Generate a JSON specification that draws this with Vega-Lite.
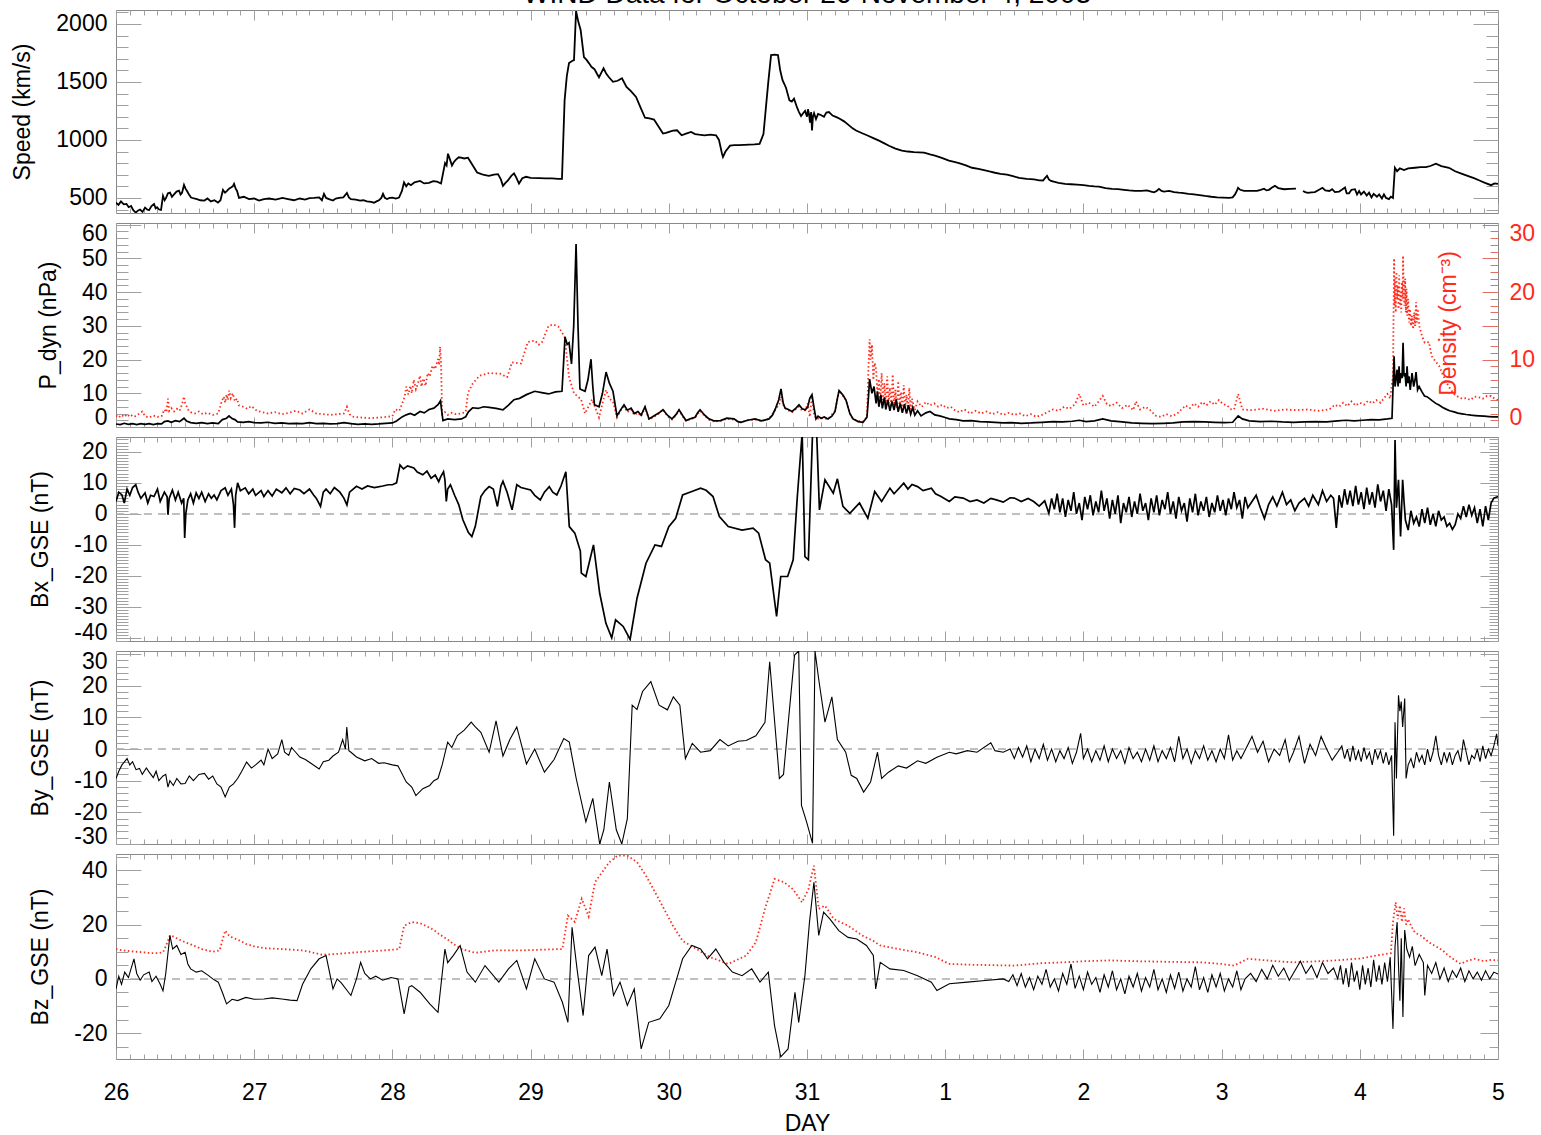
{
"$schema":"https://vega.github.io/schema/vega-lite/v6.json",
"padding":{"left":11,"top":-20,"right":0,"bottom":0},
"background":"white",
"config":{"font":"Liberation Sans","view":{"stroke":"#888888","strokeWidth":1},
"axis":{"grid":false,"domain":false,"labelFont":"Liberation Sans","titleFont":"Liberation Sans","labelFontSize":23,"titleFontSize":23,"titleFontWeight":"normal","labelColor":"#000","titleColor":"#000","tickColor":"#a0a0a0","labelPadding":9,"titlePadding":21,"labelOverlap":false,"labelFlush":5}},
"datasets":{
"frame":[{"t":0},{"t":10}],
"spd":[{"t":0,"v":459},{"t":0.018,"v":440},{"t":0.036,"v":470},{"t":0.056,"v":445},{"t":0.076,"v":448},{"t":0.092,"v":420},{"t":0.109,"v":430},{"t":0.125,"v":395},{"t":0.143,"v":373},{"t":0.158,"v":390},{"t":0.174,"v":400},{"t":0.192,"v":380},{"t":0.21,"v":416},{"t":0.225,"v":400},{"t":0.239,"v":395},{"t":0.257,"v":430},{"t":0.275,"v":448},{"t":0.287,"v":410},{"t":0.297,"v":420},{"t":0.312,"v":400},{"t":0.326,"v":396},{"t":0.34,"v":517},{"t":0.352,"v":480},{"t":0.362,"v":500},{"t":0.376,"v":540},{"t":0.391,"v":546},{"t":0.405,"v":510},{"t":0.42,"v":530},{"t":0.438,"v":555},{"t":0.456,"v":563},{"t":0.467,"v":530},{"t":0.478,"v":545},{"t":0.492,"v":612},{"t":0.503,"v":580},{"t":0.514,"v":560},{"t":0.528,"v":530},{"t":0.543,"v":503},{"t":0.565,"v":495},{"t":0.586,"v":490},{"t":0.61,"v":480},{"t":0.64,"v":477},{"t":0.662,"v":495},{"t":0.687,"v":470},{"t":0.712,"v":480},{"t":0.738,"v":460},{"t":0.756,"v":480},{"t":0.774,"v":569},{"t":0.789,"v":545},{"t":0.803,"v":560},{"t":0.818,"v":580},{"t":0.832,"v":590},{"t":0.845,"v":600},{"t":0.854,"v":621},{"t":0.866,"v":580},{"t":0.876,"v":560},{"t":0.89,"v":500},{"t":0.925,"v":510},{"t":0.962,"v":490},{"t":1.0,"v":495},{"t":1.035,"v":477},{"t":1.07,"v":490},{"t":1.107,"v":495},{"t":1.155,"v":485},{"t":1.205,"v":500},{"t":1.245,"v":490},{"t":1.288,"v":480},{"t":1.33,"v":495},{"t":1.368,"v":486},{"t":1.4,"v":498},{"t":1.433,"v":500},{"t":1.47,"v":505},{"t":1.49,"v":480},{"t":1.505,"v":535},{"t":1.52,"v":500},{"t":1.541,"v":490},{"t":1.57,"v":477},{"t":1.59,"v":495},{"t":1.614,"v":500},{"t":1.645,"v":505},{"t":1.671,"v":543},{"t":1.685,"v":505},{"t":1.7,"v":490},{"t":1.735,"v":485},{"t":1.766,"v":477},{"t":1.79,"v":480},{"t":1.816,"v":470},{"t":1.845,"v":465},{"t":1.867,"v":459},{"t":1.885,"v":470},{"t":1.903,"v":480},{"t":1.92,"v":500},{"t":1.932,"v":535},{"t":1.945,"v":500},{"t":1.961,"v":490},{"t":1.98,"v":500},{"t":2.001,"v":503},{"t":2.025,"v":495},{"t":2.048,"v":503},{"t":2.069,"v":560},{"t":2.084,"v":633},{"t":2.1,"v":600},{"t":2.115,"v":625},{"t":2.134,"v":610},{"t":2.16,"v":635},{"t":2.2,"v":647},{"t":2.23,"v":625},{"t":2.265,"v":630},{"t":2.295,"v":645},{"t":2.323,"v":640},{"t":2.352,"v":624},{"t":2.381,"v":800},{"t":2.392,"v":780},{"t":2.402,"v":881},{"t":2.417,"v":830},{"t":2.431,"v":780},{"t":2.445,"v":810},{"t":2.46,"v":830},{"t":2.48,"v":850},{"t":2.496,"v":847},{"t":2.52,"v":840},{"t":2.547,"v":847},{"t":2.576,"v":790},{"t":2.613,"v":719},{"t":2.635,"v":710},{"t":2.656,"v":700},{"t":2.68,"v":695},{"t":2.699,"v":690},{"t":2.735,"v":700},{"t":2.764,"v":705},{"t":2.785,"v":660},{"t":2.8,"v":604},{"t":2.818,"v":630},{"t":2.836,"v":650},{"t":2.86,"v":690},{"t":2.88,"v":711},{"t":2.895,"v":680},{"t":2.916,"v":624},{"t":2.94,"v":670},{"t":2.967,"v":682},{"t":3.0,"v":672},{"t":3.061,"v":670},{"t":3.11,"v":668},{"t":3.155,"v":668},{"t":3.2,"v":665},{"t":3.227,"v":665},{"t":3.246,"v":1341},{"t":3.262,"v":1550},{"t":3.278,"v":1662},{"t":3.3,"v":1680},{"t":3.314,"v":1688},{"t":3.329,"v":2110},{"t":3.345,"v":2020},{"t":3.362,"v":1948},{"t":3.386,"v":1714},{"t":3.405,"v":1690},{"t":3.423,"v":1660},{"t":3.44,"v":1630},{"t":3.462,"v":1610},{"t":3.48,"v":1570},{"t":3.495,"v":1540},{"t":3.512,"v":1580},{"t":3.528,"v":1618},{"t":3.548,"v":1570},{"t":3.567,"v":1540},{"t":3.596,"v":1501},{"t":3.63,"v":1510},{"t":3.661,"v":1532},{"t":3.694,"v":1457},{"t":3.726,"v":1420},{"t":3.763,"v":1370},{"t":3.795,"v":1280},{"t":3.828,"v":1191},{"t":3.86,"v":1185},{"t":3.893,"v":1176},{"t":3.929,"v":1110},{"t":3.958,"v":1055},{"t":3.98,"v":1060},{"t":4.002,"v":1070},{"t":4.03,"v":1080},{"t":4.06,"v":1083},{"t":4.093,"v":1040},{"t":4.125,"v":1055},{"t":4.161,"v":1069},{"t":4.19,"v":1050},{"t":4.219,"v":1045},{"t":4.258,"v":1040},{"t":4.3,"v":1045},{"t":4.342,"v":1040},{"t":4.363,"v":1000},{"t":4.385,"v":881},{"t":4.392,"v":853},{"t":4.41,"v":900},{"t":4.443,"v":951},{"t":4.475,"v":955},{"t":4.508,"v":955},{"t":4.545,"v":958},{"t":4.58,"v":960},{"t":4.62,"v":962},{"t":4.657,"v":966},{"t":4.685,"v":1050},{"t":4.703,"v":1283},{"t":4.72,"v":1500},{"t":4.74,"v":1731},{"t":4.765,"v":1735},{"t":4.79,"v":1731},{"t":4.806,"v":1600},{"t":4.823,"v":1515},{"t":4.848,"v":1450},{"t":4.873,"v":1341},{"t":4.89,"v":1330},{"t":4.906,"v":1355},{"t":4.928,"v":1280},{"t":4.942,"v":1240},{"t":4.957,"v":1206},{"t":4.972,"v":1230},{"t":4.986,"v":1250},{"t":5.0,"v":1200},{"t":5.007,"v":1264},{"t":5.015,"v":1220},{"t":5.022,"v":1150},{"t":5.03,"v":1240},{"t":5.036,"v":1081},{"t":5.043,"v":1200},{"t":5.051,"v":1230},{"t":5.065,"v":1180},{"t":5.08,"v":1225},{"t":5.1,"v":1215},{"t":5.123,"v":1200},{"t":5.14,"v":1235},{"t":5.159,"v":1240},{"t":5.185,"v":1210},{"t":5.217,"v":1194},{"t":5.24,"v":1180},{"t":5.268,"v":1160},{"t":5.3,"v":1130},{"t":5.33,"v":1100},{"t":5.355,"v":1081},{"t":5.395,"v":1060},{"t":5.434,"v":1040},{"t":5.48,"v":1015},{"t":5.521,"v":994},{"t":5.56,"v":970},{"t":5.593,"v":950},{"t":5.64,"v":925},{"t":5.687,"v":908},{"t":5.73,"v":900},{"t":5.774,"v":895},{"t":5.81,"v":893},{"t":5.847,"v":890},{"t":5.89,"v":875},{"t":5.926,"v":864},{"t":5.975,"v":845},{"t":6.027,"v":821},{"t":6.065,"v":810},{"t":6.1,"v":800},{"t":6.15,"v":780},{"t":6.194,"v":760},{"t":6.24,"v":750},{"t":6.281,"v":740},{"t":6.32,"v":728},{"t":6.36,"v":717},{"t":6.4,"v":708},{"t":6.447,"v":700},{"t":6.49,"v":688},{"t":6.534,"v":673},{"t":6.59,"v":665},{"t":6.643,"v":660},{"t":6.68,"v":652},{"t":6.708,"v":650},{"t":6.722,"v":670},{"t":6.737,"v":690},{"t":6.75,"v":660},{"t":6.765,"v":647},{"t":6.82,"v":630},{"t":6.867,"v":621},{"t":6.91,"v":618},{"t":6.954,"v":615},{"t":7.0,"v":610},{"t":7.04,"v":604},{"t":7.08,"v":600},{"t":7.113,"v":598},{"t":7.16,"v":585},{"t":7.207,"v":578},{"t":7.25,"v":575},{"t":7.294,"v":570},{"t":7.33,"v":565},{"t":7.373,"v":561},{"t":7.42,"v":560},{"t":7.46,"v":565},{"t":7.49,"v":555},{"t":7.511,"v":548},{"t":7.53,"v":560},{"t":7.547,"v":578},{"t":7.565,"v":560},{"t":7.583,"v":555},{"t":7.62,"v":560},{"t":7.656,"v":550},{"t":7.69,"v":545},{"t":7.713,"v":543},{"t":7.76,"v":535},{"t":7.8,"v":530},{"t":7.84,"v":525},{"t":7.88,"v":517},{"t":7.925,"v":510},{"t":7.967,"v":505},{"t":8.01,"v":502},{"t":8.054,"v":500},{"t":8.08,"v":505},{"t":8.097,"v":530},{"t":8.11,"v":560},{"t":8.119,"v":587},{"t":8.135,"v":570},{"t":8.162,"v":560},{"t":8.21,"v":560},{"t":8.256,"v":561},{"t":8.283,"v":570},{"t":8.307,"v":580},{"t":8.325,"v":565},{"t":8.343,"v":570},{"t":8.365,"v":590},{"t":8.386,"v":604},{"t":8.41,"v":585},{"t":8.452,"v":575},{"t":8.495,"v":578},{"t":8.538,"v":580},{"t":8.56,"v":null},{"t":8.589,"v":560},{"t":8.605,"v":550},{"t":8.624,"v":543},{"t":8.65,"v":548},{"t":8.675,"v":550},{"t":8.705,"v":570},{"t":8.73,"v":587},{"t":8.75,"v":565},{"t":8.78,"v":560},{"t":8.8,"v":575},{"t":8.82,"v":550},{"t":8.85,"v":555},{"t":8.87,"v":570},{"t":8.893,"v":590},{"t":8.905,"v":540},{"t":8.922,"v":540},{"t":8.94,"v":570},{"t":8.965,"v":575},{"t":8.98,"v":530},{"t":8.995,"v":560},{"t":9.009,"v":530},{"t":9.03,"v":555},{"t":9.05,"v":520},{"t":9.067,"v":545},{"t":9.085,"v":505},{"t":9.1,"v":535},{"t":9.124,"v":510},{"t":9.14,"v":530},{"t":9.16,"v":495},{"t":9.175,"v":530},{"t":9.19,"v":500},{"t":9.211,"v":490},{"t":9.225,"v":510},{"t":9.24,"v":500},{"t":9.254,"v":760},{"t":9.27,"v":730},{"t":9.29,"v":755},{"t":9.32,"v":740},{"t":9.35,"v":755},{"t":9.399,"v":760},{"t":9.44,"v":765},{"t":9.479,"v":765},{"t":9.51,"v":775},{"t":9.551,"v":795},{"t":9.59,"v":775},{"t":9.645,"v":760},{"t":9.69,"v":730},{"t":9.74,"v":708},{"t":9.78,"v":690},{"t":9.826,"v":670},{"t":9.866,"v":650},{"t":9.906,"v":630},{"t":9.95,"v":610},{"t":9.975,"v":625},{"t":10,"v":621}],
"pd":[{"t":0,"v":0.9},{"t":0.03,"v":0.7},{"t":0.06,"v":1.1},{"t":0.09,"v":0.8},{"t":0.12,"v":1.0},{"t":0.15,"v":0.7},{"t":0.18,"v":1.0},{"t":0.21,"v":0.8},{"t":0.24,"v":1.0},{"t":0.27,"v":0.7},{"t":0.3,"v":1.0},{"t":0.33,"v":0.9},{"t":0.35,"v":1.6},{"t":0.376,"v":1.8},{"t":0.4,"v":1.4},{"t":0.43,"v":1.9},{"t":0.46,"v":1.6},{"t":0.492,"v":2.6},{"t":0.51,"v":1.8},{"t":0.54,"v":1.3},{"t":0.58,"v":1.1},{"t":0.62,"v":1.3},{"t":0.66,"v":1.0},{"t":0.7,"v":1.2},{"t":0.74,"v":1.0},{"t":0.77,"v":2.2},{"t":0.8,"v":2.6},{"t":0.818,"v":3.3},{"t":0.84,"v":2.5},{"t":0.86,"v":2.2},{"t":0.88,"v":1.5},{"t":0.92,"v":1.4},{"t":0.96,"v":1.6},{"t":1.0,"v":1.3},{"t":1.05,"v":1.2},{"t":1.1,"v":1.4},{"t":1.15,"v":1.1},{"t":1.2,"v":1.2},{"t":1.25,"v":1.0},{"t":1.3,"v":1.1},{"t":1.35,"v":1.0},{"t":1.4,"v":1.3},{"t":1.45,"v":1.0},{"t":1.5,"v":1.1},{"t":1.55,"v":0.9},{"t":1.6,"v":1.0},{"t":1.65,"v":1.3},{"t":1.7,"v":1.0},{"t":1.75,"v":0.8},{"t":1.8,"v":0.9},{"t":1.85,"v":0.8},{"t":1.9,"v":0.9},{"t":1.95,"v":1.1},{"t":2.0,"v":1.2},{"t":2.03,"v":1.8},{"t":2.07,"v":3.0},{"t":2.1,"v":3.6},{"t":2.13,"v":4.0},{"t":2.16,"v":3.5},{"t":2.2,"v":4.6},{"t":2.23,"v":4.2},{"t":2.265,"v":5.2},{"t":2.3,"v":5.6},{"t":2.33,"v":6.6},{"t":2.348,"v":7.8},{"t":2.356,"v":5.0},{"t":2.366,"v":1.9},{"t":2.4,"v":2.4},{"t":2.45,"v":2.2},{"t":2.5,"v":2.4},{"t":2.53,"v":3.0},{"t":2.55,"v":4.5},{"t":2.58,"v":5.7},{"t":2.62,"v":5.5},{"t":2.66,"v":6.0},{"t":2.7,"v":5.8},{"t":2.75,"v":5.5},{"t":2.8,"v":5.1},{"t":2.84,"v":6.5},{"t":2.88,"v":8.1},{"t":2.92,"v":8.5},{"t":2.97,"v":9.6},{"t":3.03,"v":10.6},{"t":3.08,"v":10.2},{"t":3.13,"v":9.8},{"t":3.18,"v":10.4},{"t":3.227,"v":10.6},{"t":3.249,"v":26.7},{"t":3.265,"v":24.5},{"t":3.278,"v":25},{"t":3.296,"v":18.7},{"t":3.312,"v":30},{"t":3.329,"v":54.3},{"t":3.343,"v":30},{"t":3.357,"v":11.3},{"t":3.394,"v":10.6},{"t":3.415,"v":14},{"t":3.437,"v":20.1},{"t":3.45,"v":12},{"t":3.462,"v":6.6},{"t":3.495,"v":6},{"t":3.52,"v":10},{"t":3.546,"v":16.3},{"t":3.57,"v":13},{"t":3.596,"v":10.6},{"t":3.625,"v":3.3},{"t":3.65,"v":5},{"t":3.676,"v":6.6},{"t":3.7,"v":5},{"t":3.727,"v":5.6},{"t":3.75,"v":4.0},{"t":3.777,"v":4.6},{"t":3.8,"v":3.5},{"t":3.828,"v":6},{"t":3.857,"v":2.4},{"t":3.9,"v":3.5},{"t":3.93,"v":4.2},{"t":3.958,"v":5.1},{"t":3.99,"v":3.5},{"t":4.023,"v":2.4},{"t":4.05,"v":3.6},{"t":4.074,"v":5.1},{"t":4.1,"v":3.4},{"t":4.125,"v":1.9},{"t":4.16,"v":2.5},{"t":4.19,"v":2.9},{"t":4.21,"v":4.3},{"t":4.226,"v":5.1},{"t":4.26,"v":3.5},{"t":4.291,"v":2.4},{"t":4.33,"v":1.8},{"t":4.374,"v":1.9},{"t":4.42,"v":2.6},{"t":4.472,"v":2.4},{"t":4.5,"v":1.6},{"t":4.522,"v":1.4},{"t":4.57,"v":2.0},{"t":4.624,"v":2.4},{"t":4.67,"v":1.8},{"t":4.725,"v":2.4},{"t":4.75,"v":3.5},{"t":4.773,"v":5.6},{"t":4.795,"v":8},{"t":4.812,"v":11.3},{"t":4.828,"v":7},{"t":4.841,"v":5.6},{"t":4.865,"v":5.2},{"t":4.892,"v":4.6},{"t":4.92,"v":5.6},{"t":4.942,"v":6.6},{"t":4.965,"v":5.4},{"t":4.988,"v":5.1},{"t":5.005,"v":5.9},{"t":5.02,"v":8.5},{"t":5.036,"v":9.6},{"t":5.05,"v":6},{"t":5.065,"v":2.4},{"t":5.08,"v":3.2},{"t":5.101,"v":2.6},{"t":5.125,"v":3.0},{"t":5.152,"v":2.4},{"t":5.18,"v":3.2},{"t":5.203,"v":4.6},{"t":5.22,"v":8.5},{"t":5.232,"v":10.8},{"t":5.26,"v":9.5},{"t":5.282,"v":8},{"t":5.31,"v":4},{"t":5.333,"v":2.4},{"t":5.37,"v":1.6},{"t":5.405,"v":1.4},{"t":5.434,"v":2.9},{"t":5.445,"v":9},{"t":5.453,"v":14.2},{"t":5.47,"v":10},{"t":5.485,"v":12},{"t":5.5,"v":7},{"t":5.51,"v":10.5},{"t":5.52,"v":6},{"t":5.535,"v":9.5},{"t":5.545,"v":5.5},{"t":5.56,"v":8.8},{"t":5.57,"v":5.2},{"t":5.585,"v":8},{"t":5.6,"v":4.8},{"t":5.615,"v":7.6},{"t":5.63,"v":5},{"t":5.645,"v":8.2},{"t":5.66,"v":4.5},{"t":5.675,"v":7},{"t":5.69,"v":4.2},{"t":5.705,"v":6.8},{"t":5.72,"v":4},{"t":5.735,"v":6.5},{"t":5.75,"v":3.8},{"t":5.765,"v":5.8},{"t":5.78,"v":3.5},{"t":5.8,"v":4.8},{"t":5.825,"v":3.3},{"t":5.86,"v":4.2},{"t":5.89,"v":4.6},{"t":5.925,"v":3.6},{"t":5.96,"v":3.3},{"t":6.0,"v":2.8},{"t":6.03,"v":2.4},{"t":6.08,"v":2.2},{"t":6.13,"v":1.8},{"t":6.19,"v":1.9},{"t":6.25,"v":1.6},{"t":6.3,"v":1.5},{"t":6.36,"v":1.4},{"t":6.42,"v":1.2},{"t":6.48,"v":1.3},{"t":6.55,"v":1.1},{"t":6.62,"v":1.2},{"t":6.7,"v":1.4},{"t":6.78,"v":1.6},{"t":6.85,"v":1.5},{"t":6.92,"v":1.7},{"t":6.97,"v":2.0},{"t":7.02,"v":1.6},{"t":7.08,"v":1.8},{"t":7.14,"v":2.4},{"t":7.2,"v":1.8},{"t":7.28,"v":1.5},{"t":7.35,"v":1.2},{"t":7.42,"v":1.1},{"t":7.5,"v":1.0},{"t":7.58,"v":1.1},{"t":7.65,"v":1.2},{"t":7.72,"v":1.5},{"t":7.8,"v":1.6},{"t":7.88,"v":1.5},{"t":7.95,"v":1.4},{"t":8.02,"v":1.3},{"t":8.08,"v":1.4},{"t":8.12,"v":3.3},{"t":8.15,"v":2.4},{"t":8.2,"v":1.8},{"t":8.28,"v":1.6},{"t":8.36,"v":1.7},{"t":8.44,"v":1.5},{"t":8.52,"v":1.4},{"t":8.6,"v":1.5},{"t":8.68,"v":1.6},{"t":8.76,"v":1.5},{"t":8.84,"v":1.8},{"t":8.9,"v":2.0},{"t":8.96,"v":1.8},{"t":9.02,"v":2.0},{"t":9.08,"v":2.2},{"t":9.14,"v":2.1},{"t":9.2,"v":2.4},{"t":9.233,"v":2.6},{"t":9.248,"v":21},{"t":9.255,"v":12},{"t":9.262,"v":14},{"t":9.27,"v":17},{"t":9.277,"v":12},{"t":9.284,"v":18},{"t":9.29,"v":13},{"t":9.298,"v":16},{"t":9.306,"v":14.5},{"t":9.313,"v":25},{"t":9.32,"v":15},{"t":9.327,"v":16},{"t":9.335,"v":12},{"t":9.342,"v":18},{"t":9.349,"v":13},{"t":9.356,"v":15},{"t":9.365,"v":11},{"t":9.378,"v":16},{"t":9.39,"v":12},{"t":9.4,"v":14},{"t":9.407,"v":16.3},{"t":9.418,"v":11},{"t":9.429,"v":12},{"t":9.45,"v":10.4},{"t":9.468,"v":9.2},{"t":9.486,"v":9},{"t":9.505,"v":8.4},{"t":9.523,"v":7.8},{"t":9.55,"v":7.0},{"t":9.573,"v":6.5},{"t":9.6,"v":5.8},{"t":9.624,"v":5.3},{"t":9.65,"v":4.8},{"t":9.682,"v":4.5},{"t":9.71,"v":4.1},{"t":9.74,"v":3.9},{"t":9.77,"v":3.7},{"t":9.805,"v":3.5},{"t":9.835,"v":3.4},{"t":9.863,"v":3.3},{"t":9.9,"v":3.2},{"t":9.935,"v":3.1},{"t":9.965,"v":3.0},{"t":10,"v":3}],
"dn":[{"t":0,"v":1.7},{"t":0.02,"v":1.4},{"t":0.04,"v":1.8},{"t":0.06,"v":1.5},{"t":0.08,"v":1.9},{"t":0.1,"v":1.5},{"t":0.12,"v":1.8},{"t":0.14,"v":1.6},{"t":0.17,"v":2.0},{"t":0.19,"v":2.3},{"t":0.21,"v":1.6},{"t":0.24,"v":1.4},{"t":0.27,"v":1.7},{"t":0.3,"v":1.5},{"t":0.33,"v":1.6},{"t":0.35,"v":2.6},{"t":0.365,"v":2.2},{"t":0.376,"v":4.2},{"t":0.385,"v":2.4},{"t":0.4,"v":2.8},{"t":0.42,"v":2.3},{"t":0.44,"v":2.7},{"t":0.46,"v":2.4},{"t":0.48,"v":3.5},{"t":0.492,"v":4.5},{"t":0.5,"v":3.6},{"t":0.52,"v":2.6},{"t":0.54,"v":2.2},{"t":0.57,"v":2.0},{"t":0.6,"v":2.3},{"t":0.63,"v":1.9},{"t":0.66,"v":2.1},{"t":0.7,"v":1.8},{"t":0.74,"v":2.0},{"t":0.765,"v":3.8},{"t":0.78,"v":4.5},{"t":0.79,"v":3.6},{"t":0.8,"v":4.8},{"t":0.81,"v":4.0},{"t":0.818,"v":5.4},{"t":0.83,"v":4.3},{"t":0.845,"v":5.0},{"t":0.86,"v":3.8},{"t":0.875,"v":4.2},{"t":0.89,"v":3.2},{"t":0.92,"v":3.0},{"t":0.95,"v":2.7},{"t":0.98,"v":3.1},{"t":1.02,"v":2.4},{"t":1.06,"v":2.2},{"t":1.1,"v":2.0},{"t":1.15,"v":2.2},{"t":1.2,"v":1.9},{"t":1.25,"v":2.1},{"t":1.3,"v":2.4},{"t":1.35,"v":2.0},{"t":1.4,"v":2.6},{"t":1.45,"v":2.0},{"t":1.5,"v":1.9},{"t":1.55,"v":1.8},{"t":1.6,"v":1.9},{"t":1.65,"v":2.0},{"t":1.671,"v":3.0},{"t":1.69,"v":1.9},{"t":1.72,"v":1.5},{"t":1.78,"v":1.4},{"t":1.84,"v":1.3},{"t":1.9,"v":1.4},{"t":1.96,"v":1.5},{"t":2.0,"v":1.6},{"t":2.02,"v":2.6},{"t":2.05,"v":2.4},{"t":2.07,"v":3.4},{"t":2.09,"v":4.6},{"t":2.1,"v":6.0},{"t":2.115,"v":4.8},{"t":2.13,"v":6.1},{"t":2.14,"v":5.0},{"t":2.155,"v":7.0},{"t":2.17,"v":5.6},{"t":2.185,"v":6.5},{"t":2.2,"v":7.6},{"t":2.21,"v":6.0},{"t":2.225,"v":7.2},{"t":2.24,"v":6.1},{"t":2.255,"v":8.0},{"t":2.27,"v":7.5},{"t":2.29,"v":9.1},{"t":2.31,"v":8.6},{"t":2.33,"v":10.1},{"t":2.338,"v":9.2},{"t":2.345,"v":11.9},{"t":2.352,"v":9.5},{"t":2.36,"v":1.9},{"t":2.38,"v":2.2},{"t":2.4,"v":1.8},{"t":2.43,"v":2.1},{"t":2.46,"v":1.9},{"t":2.5,"v":2.0},{"t":2.53,"v":2.2},{"t":2.547,"v":5.1},{"t":2.58,"v":6.4},{"t":2.63,"v":7.6},{"t":2.7,"v":8.0},{"t":2.78,"v":7.9},{"t":2.83,"v":7.4},{"t":2.866,"v":9.6},{"t":2.93,"v":9.4},{"t":2.98,"v":12.6},{"t":3.032,"v":12.8},{"t":3.06,"v":12.2},{"t":3.083,"v":12.6},{"t":3.13,"v":15},{"t":3.165,"v":15.2},{"t":3.2,"v":14.9},{"t":3.246,"v":13.4},{"t":3.278,"v":7.4},{"t":3.314,"v":5.0},{"t":3.365,"v":4.1},{"t":3.394,"v":2.0},{"t":3.445,"v":4.1},{"t":3.495,"v":1.4},{"t":3.52,"v":3.5},{"t":3.546,"v":5.5},{"t":3.57,"v":4.2},{"t":3.596,"v":3.8},{"t":3.625,"v":1.4},{"t":3.65,"v":2.4},{"t":3.676,"v":3.0},{"t":3.7,"v":2.2},{"t":3.727,"v":2.6},{"t":3.75,"v":1.8},{"t":3.777,"v":2.1},{"t":3.8,"v":1.6},{"t":3.828,"v":2.9},{"t":3.857,"v":1.1},{"t":3.9,"v":1.6},{"t":3.93,"v":2.0},{"t":3.958,"v":2.6},{"t":3.99,"v":1.6},{"t":4.023,"v":1.1},{"t":4.05,"v":1.7},{"t":4.074,"v":2.5},{"t":4.1,"v":1.6},{"t":4.125,"v":0.9},{"t":4.16,"v":1.2},{"t":4.19,"v":1.4},{"t":4.226,"v":2.4},{"t":4.26,"v":1.6},{"t":4.291,"v":1.1},{"t":4.33,"v":0.8},{"t":4.374,"v":0.9},{"t":4.42,"v":1.2},{"t":4.472,"v":1.1},{"t":4.522,"v":0.7},{"t":4.57,"v":1.0},{"t":4.624,"v":1.1},{"t":4.67,"v":0.9},{"t":4.725,"v":1.2},{"t":4.773,"v":2.6},{"t":4.8,"v":3.4},{"t":4.812,"v":4.5},{"t":4.83,"v":3.2},{"t":4.85,"v":2.6},{"t":4.892,"v":2.2},{"t":4.942,"v":3.0},{"t":4.965,"v":2.4},{"t":4.988,"v":2.5},{"t":5.005,"v":3.5},{"t":5.02,"v":1.5},{"t":5.036,"v":4.6},{"t":5.05,"v":2.0},{"t":5.065,"v":1.2},{"t":5.1,"v":1.3},{"t":5.152,"v":1.2},{"t":5.203,"v":2.4},{"t":5.232,"v":5.4},{"t":5.26,"v":4.6},{"t":5.282,"v":4.0},{"t":5.31,"v":2.0},{"t":5.333,"v":1.2},{"t":5.37,"v":0.9},{"t":5.405,"v":0.8},{"t":5.434,"v":1.5},{"t":5.445,"v":9},{"t":5.453,"v":13},{"t":5.46,"v":10},{"t":5.47,"v":12.2},{"t":5.48,"v":7},{"t":5.49,"v":9.5},{"t":5.5,"v":8.6},{"t":5.51,"v":4.5},{"t":5.52,"v":7.1},{"t":5.53,"v":3.5},{"t":5.54,"v":8},{"t":5.55,"v":4},{"t":5.56,"v":6.5},{"t":5.57,"v":3.2},{"t":5.58,"v":7.5},{"t":5.59,"v":3.5},{"t":5.6,"v":5.8},{"t":5.61,"v":3.0},{"t":5.62,"v":7.8},{"t":5.63,"v":3.2},{"t":5.64,"v":5.5},{"t":5.65,"v":2.8},{"t":5.66,"v":6.8},{"t":5.67,"v":3.0},{"t":5.68,"v":5.2},{"t":5.69,"v":2.6},{"t":5.7,"v":6.2},{"t":5.71,"v":2.8},{"t":5.72,"v":4.8},{"t":5.73,"v":2.5},{"t":5.74,"v":5.8},{"t":5.75,"v":2.6},{"t":5.76,"v":4.2},{"t":5.78,"v":2.5},{"t":5.8,"v":3.8},{"t":5.83,"v":3.0},{"t":5.86,"v":3.7},{"t":5.89,"v":3.2},{"t":5.92,"v":3.5},{"t":5.95,"v":3.0},{"t":5.98,"v":3.3},{"t":6.01,"v":2.8},{"t":6.04,"v":3.0},{"t":6.07,"v":2.5},{"t":6.1,"v":2.2},{"t":6.14,"v":2.6},{"t":6.18,"v":2.0},{"t":6.22,"v":2.4},{"t":6.26,"v":2.0},{"t":6.3,"v":2.3},{"t":6.34,"v":1.9},{"t":6.38,"v":2.2},{"t":6.42,"v":1.8},{"t":6.46,"v":2.1},{"t":6.5,"v":1.8},{"t":6.54,"v":2.0},{"t":6.58,"v":1.6},{"t":6.62,"v":1.9},{"t":6.66,"v":1.5},{"t":6.7,"v":1.8},{"t":6.74,"v":2.2},{"t":6.78,"v":2.6},{"t":6.82,"v":2.4},{"t":6.86,"v":3.0},{"t":6.9,"v":2.7},{"t":6.94,"v":3.4},{"t":6.97,"v":4.9},{"t":7.0,"v":3.2},{"t":7.04,"v":3.6},{"t":7.08,"v":3.0},{"t":7.11,"v":3.8},{"t":7.14,"v":4.6},{"t":7.17,"v":3.4},{"t":7.2,"v":3.1},{"t":7.24,"v":3.6},{"t":7.28,"v":2.8},{"t":7.32,"v":3.3},{"t":7.36,"v":2.5},{"t":7.38,"v":3.8},{"t":7.41,"v":2.6},{"t":7.45,"v":3.0},{"t":7.49,"v":2.4},{"t":7.52,"v":1.7},{"t":7.56,"v":1.5},{"t":7.6,"v":1.9},{"t":7.64,"v":1.6},{"t":7.68,"v":2.0},{"t":7.71,"v":2.6},{"t":7.74,"v":3.2},{"t":7.77,"v":2.8},{"t":7.8,"v":3.5},{"t":7.83,"v":3.0},{"t":7.86,"v":3.7},{"t":7.89,"v":3.2},{"t":7.92,"v":3.8},{"t":7.95,"v":3.3},{"t":7.98,"v":4.0},{"t":8.01,"v":3.4},{"t":8.04,"v":3.2},{"t":8.07,"v":2.6},{"t":8.09,"v":2.6},{"t":8.12,"v":4.9},{"t":8.15,"v":2.6},{"t":8.22,"v":2.5},{"t":8.3,"v":2.7},{"t":8.38,"v":2.4},{"t":8.46,"v":2.6},{"t":8.54,"v":2.5},{"t":8.62,"v":2.6},{"t":8.7,"v":2.4},{"t":8.78,"v":2.6},{"t":8.82,"v":3.3},{"t":8.85,"v":3.0},{"t":8.88,"v":3.6},{"t":8.91,"v":3.1},{"t":8.94,"v":3.8},{"t":8.97,"v":3.2},{"t":9.0,"v":3.6},{"t":9.03,"v":3.3},{"t":9.06,"v":3.9},{"t":9.09,"v":3.5},{"t":9.12,"v":4.0},{"t":9.15,"v":3.6},{"t":9.18,"v":4.4},{"t":9.2,"v":4.9},{"t":9.22,"v":4.2},{"t":9.233,"v":6.5},{"t":9.24,"v":7.4},{"t":9.248,"v":25},{"t":9.252,"v":18},{"t":9.256,"v":22},{"t":9.26,"v":17},{"t":9.265,"v":23},{"t":9.27,"v":19},{"t":9.275,"v":21},{"t":9.28,"v":17.5},{"t":9.285,"v":22.5},{"t":9.29,"v":18},{"t":9.295,"v":20},{"t":9.3,"v":17},{"t":9.305,"v":21.5},{"t":9.31,"v":19},{"t":9.313,"v":25.4},{"t":9.318,"v":20},{"t":9.323,"v":18},{"t":9.328,"v":22},{"t":9.333,"v":17},{"t":9.338,"v":20.5},{"t":9.343,"v":16.5},{"t":9.35,"v":19},{"t":9.356,"v":15.5},{"t":9.362,"v":17.5},{"t":9.37,"v":15},{"t":9.378,"v":16.5},{"t":9.386,"v":14.5},{"t":9.394,"v":17},{"t":9.4,"v":15},{"t":9.407,"v":18.5},{"t":9.413,"v":15.5},{"t":9.42,"v":17.5},{"t":9.43,"v":15},{"t":9.45,"v":13.5},{"t":9.47,"v":12.5},{"t":9.5,"v":12.6},{"t":9.52,"v":10.5},{"t":9.545,"v":9.8},{"t":9.573,"v":9.1},{"t":9.6,"v":7.8},{"t":9.624,"v":6.7},{"t":9.65,"v":5.8},{"t":9.682,"v":4.9},{"t":9.71,"v":4.5},{"t":9.74,"v":4.2},{"t":9.77,"v":4.3},{"t":9.8,"v":4.0},{"t":9.83,"v":4.5},{"t":9.863,"v":4.4},{"t":9.89,"v":4.2},{"t":9.92,"v":4.6},{"t":9.95,"v":4.6},{"t":9.975,"v":4.2},{"t":10,"v":4.0}],
"bx":[{"t":0,"v":4.0},{"t":0.02,"v":7},{"t":0.043,"v":6.1},{"t":0.06,"v":3.5},{"t":0.08,"v":8},{"t":0.1,"v":6},{"t":0.12,"v":8.5},{"t":0.143,"v":9.4},{"t":0.16,"v":7},{"t":0.18,"v":5},{"t":0.21,"v":6.8},{"t":0.23,"v":3.5},{"t":0.25,"v":6},{"t":0.275,"v":5.6},{"t":0.3,"v":8},{"t":0.32,"v":4},{"t":0.35,"v":7},{"t":0.37,"v":5.5},{"t":0.376,"v":-0.3},{"t":0.385,"v":5},{"t":0.408,"v":7.7},{"t":0.43,"v":4.5},{"t":0.45,"v":7},{"t":0.475,"v":3.5},{"t":0.49,"v":5},{"t":0.497,"v":-7.8},{"t":0.505,"v":0},{"t":0.52,"v":4.5},{"t":0.54,"v":6.5},{"t":0.56,"v":3.5},{"t":0.58,"v":6.8},{"t":0.6,"v":5},{"t":0.62,"v":7},{"t":0.645,"v":4},{"t":0.67,"v":6.5},{"t":0.69,"v":5},{"t":0.71,"v":6.1},{"t":0.73,"v":4.5},{"t":0.76,"v":7.5},{"t":0.79,"v":8.4},{"t":0.81,"v":6},{"t":0.835,"v":8},{"t":0.85,"v":3},{"t":0.858,"v":-4.5},{"t":0.866,"v":6},{"t":0.88,"v":10},{"t":0.9,"v":7.5},{"t":0.935,"v":8.4},{"t":0.96,"v":6.5},{"t":0.99,"v":8},{"t":1.01,"v":6},{"t":1.05,"v":7.5},{"t":1.07,"v":5.6},{"t":1.1,"v":7.5},{"t":1.13,"v":5.8},{"t":1.16,"v":8},{"t":1.2,"v":6.8},{"t":1.23,"v":8.4},{"t":1.26,"v":6.5},{"t":1.29,"v":8.2},{"t":1.33,"v":7.7},{"t":1.36,"v":6.5},{"t":1.4,"v":8.0},{"t":1.43,"v":6.1},{"t":1.45,"v":5},{"t":1.48,"v":2.4},{"t":1.5,"v":7},{"t":1.52,"v":8},{"t":1.55,"v":6.5},{"t":1.58,"v":8.5},{"t":1.62,"v":7},{"t":1.65,"v":5},{"t":1.671,"v":2.9},{"t":1.69,"v":7},{"t":1.74,"v":8.9},{"t":1.78,"v":8},{"t":1.82,"v":9},{"t":1.87,"v":8.5},{"t":1.93,"v":9},{"t":1.97,"v":9.4},{"t":2.0,"v":9.4},{"t":2.03,"v":10},{"t":2.055,"v":15.8},{"t":2.08,"v":14.5},{"t":2.11,"v":15.5},{"t":2.155,"v":14.8},{"t":2.18,"v":13.5},{"t":2.22,"v":12.6},{"t":2.25,"v":13.8},{"t":2.28,"v":11.5},{"t":2.31,"v":12.5},{"t":2.335,"v":10.4},{"t":2.35,"v":12},{"t":2.37,"v":13.6},{"t":2.38,"v":11},{"t":2.39,"v":4},{"t":2.4,"v":8},{"t":2.42,"v":9.4},{"t":2.45,"v":6},{"t":2.48,"v":3},{"t":2.51,"v":-1.9},{"t":2.55,"v":-6},{"t":2.575,"v":-7.3},{"t":2.6,"v":-4},{"t":2.625,"v":2},{"t":2.64,"v":5.6},{"t":2.67,"v":7.5},{"t":2.7,"v":8.8},{"t":2.73,"v":8},{"t":2.76,"v":2.4},{"t":2.785,"v":9},{"t":2.8,"v":10.5},{"t":2.83,"v":7},{"t":2.866,"v":1.3},{"t":2.89,"v":7},{"t":2.9,"v":9.4},{"t":2.93,"v":8.5},{"t":3.0,"v":7.7},{"t":3.03,"v":6},{"t":3.07,"v":4.5},{"t":3.1,"v":7},{"t":3.135,"v":8.8},{"t":3.16,"v":7},{"t":3.19,"v":6.1},{"t":3.22,"v":9},{"t":3.255,"v":13.6},{"t":3.28,"v":-4.1},{"t":3.32,"v":-6.2},{"t":3.36,"v":-12},{"t":3.367,"v":-19.1},{"t":3.4,"v":-20.2},{"t":3.455,"v":-10},{"t":3.5,"v":-25.6},{"t":3.545,"v":-35.3},{"t":3.587,"v":-40},{"t":3.615,"v":-34.2},{"t":3.67,"v":-36.3},{"t":3.72,"v":-40.5},{"t":3.77,"v":-27.2},{"t":3.835,"v":-15.9},{"t":3.9,"v":-10},{"t":3.947,"v":-10.5},{"t":4.0,"v":-4.1},{"t":4.05,"v":-1.4},{"t":4.1,"v":6.1},{"t":4.167,"v":7.2},{"t":4.23,"v":8.3},{"t":4.27,"v":7.6},{"t":4.32,"v":5.6},{"t":4.366,"v":-0.9},{"t":4.43,"v":-4.1},{"t":4.53,"v":-5.2},{"t":4.61,"v":-4.6},{"t":4.65,"v":-6.2},{"t":4.7,"v":-14.8},{"t":4.73,"v":-15.9},{"t":4.78,"v":-33.1},{"t":4.81,"v":-20.2},{"t":4.86,"v":-20.2},{"t":4.9,"v":-14.8},{"t":4.93,"v":5.6},{"t":4.965,"v":26},{"t":4.985,"v":-13.8},{"t":5.01,"v":-14.8},{"t":5.04,"v":26},{"t":5.07,"v":26},{"t":5.09,"v":1.3},{"t":5.13,"v":11},{"t":5.19,"v":6.7},{"t":5.22,"v":11.3},{"t":5.26,"v":2.4},{"t":5.31,"v":0.2},{"t":5.38,"v":3.5},{"t":5.44,"v":-1.4},{"t":5.49,"v":7.2},{"t":5.54,"v":4},{"t":5.6,"v":8.3},{"t":5.63,"v":6.5},{"t":5.7,"v":9.9},{"t":5.73,"v":8},{"t":5.76,"v":9.5},{"t":5.8,"v":8.8},{"t":5.84,"v":7.5},{"t":5.9,"v":8.3},{"t":5.93,"v":6.5},{"t":5.97,"v":5.6},{"t":6.03,"v":4},{"t":6.07,"v":5.5},{"t":6.13,"v":5.1},{"t":6.18,"v":4},{"t":6.23,"v":4.5},{"t":6.28,"v":3.5},{"t":6.33,"v":5},{"t":6.37,"v":4.5},{"t":6.42,"v":3.8},{"t":6.47,"v":5.2},{"t":6.5,"v":5.1},{"t":6.55,"v":4},{"t":6.6,"v":5},{"t":6.64,"v":4},{"t":6.68,"v":2.5},{"t":6.72,"v":4.2},{"t":6.75,"v":0.2},{"t":6.77,"v":5},{"t":6.79,"v":1.5},{"t":6.81,"v":6.5},{"t":6.83,"v":0.5},{"t":6.85,"v":5},{"t":6.87,"v":-1},{"t":6.89,"v":4.5},{"t":6.91,"v":1},{"t":6.93,"v":7},{"t":6.95,"v":0},{"t":6.97,"v":3.5},{"t":6.99,"v":-2},{"t":7.01,"v":5.5},{"t":7.03,"v":1.5},{"t":7.05,"v":6},{"t":7.07,"v":-0.5},{"t":7.09,"v":4},{"t":7.11,"v":0.5},{"t":7.13,"v":7.5},{"t":7.15,"v":1},{"t":7.17,"v":5},{"t":7.19,"v":-1.5},{"t":7.21,"v":4.5},{"t":7.23,"v":0},{"t":7.25,"v":6},{"t":7.27,"v":-3},{"t":7.29,"v":3.5},{"t":7.31,"v":0.5},{"t":7.33,"v":5.5},{"t":7.35,"v":-1},{"t":7.37,"v":4},{"t":7.39,"v":0},{"t":7.41,"v":6.5},{"t":7.43,"v":1},{"t":7.45,"v":3.5},{"t":7.47,"v":-2},{"t":7.49,"v":5},{"t":7.51,"v":0.5},{"t":7.53,"v":6},{"t":7.55,"v":-0.5},{"t":7.57,"v":4.5},{"t":7.59,"v":1.5},{"t":7.61,"v":7},{"t":7.63,"v":0},{"t":7.65,"v":4},{"t":7.67,"v":-1.5},{"t":7.69,"v":5.5},{"t":7.71,"v":1},{"t":7.73,"v":3.5},{"t":7.75,"v":-2.5},{"t":7.77,"v":5},{"t":7.79,"v":0.5},{"t":7.81,"v":6.5},{"t":7.83,"v":-0.5},{"t":7.85,"v":4},{"t":7.87,"v":1},{"t":7.89,"v":5.5},{"t":7.91,"v":-1},{"t":7.93,"v":3.5},{"t":7.95,"v":0.5},{"t":7.97,"v":6},{"t":7.99,"v":1},{"t":8.01,"v":4.5},{"t":8.03,"v":-0.5},{"t":8.05,"v":5},{"t":8.07,"v":1.5},{"t":8.09,"v":7},{"t":8.11,"v":2},{"t":8.13,"v":4.5},{"t":8.15,"v":-1.5},{"t":8.17,"v":5.5},{"t":8.19,"v":2},{"t":8.22,"v":4},{"t":8.25,"v":6},{"t":8.28,"v":2},{"t":8.31,"v":-1.5},{"t":8.34,"v":3},{"t":8.37,"v":5.5},{"t":8.4,"v":2.5},{"t":8.44,"v":7},{"t":8.47,"v":3},{"t":8.5,"v":4.5},{"t":8.53,"v":1},{"t":8.56,"v":3.5},{"t":8.6,"v":5},{"t":8.63,"v":2.5},{"t":8.66,"v":6},{"t":8.7,"v":3},{"t":8.73,"v":7.5},{"t":8.76,"v":4},{"t":8.79,"v":6},{"t":8.81,"v":5},{"t":8.83,"v":-4.5},{"t":8.85,"v":6},{"t":8.87,"v":2},{"t":8.89,"v":8},{"t":8.91,"v":3},{"t":8.93,"v":7.5},{"t":8.95,"v":2.5},{"t":8.97,"v":9},{"t":8.99,"v":3},{"t":9.01,"v":7},{"t":9.03,"v":1.5},{"t":9.05,"v":8.5},{"t":9.07,"v":3},{"t":9.09,"v":7},{"t":9.11,"v":2},{"t":9.13,"v":9.5},{"t":9.15,"v":4},{"t":9.17,"v":7.5},{"t":9.19,"v":1},{"t":9.21,"v":8},{"t":9.23,"v":3},{"t":9.245,"v":-11.6},{"t":9.255,"v":23.8},{"t":9.265,"v":2},{"t":9.28,"v":11},{"t":9.295,"v":-7.3},{"t":9.31,"v":11},{"t":9.32,"v":4},{"t":9.33,"v":-2},{"t":9.35,"v":-5.2},{"t":9.37,"v":1},{"t":9.39,"v":-3},{"t":9.41,"v":-1},{"t":9.43,"v":-4.1},{"t":9.45,"v":1.5},{"t":9.47,"v":-3},{"t":9.49,"v":2},{"t":9.51,"v":-3.5},{"t":9.53,"v":0},{"t":9.55,"v":-4},{"t":9.57,"v":1},{"t":9.59,"v":-2},{"t":9.61,"v":-1},{"t":9.63,"v":-4},{"t":9.65,"v":-3},{"t":9.67,"v":-5},{"t":9.69,"v":-3.5},{"t":9.71,"v":0},{"t":9.73,"v":-1.5},{"t":9.75,"v":2.5},{"t":9.77,"v":-1},{"t":9.79,"v":3},{"t":9.81,"v":-0.5},{"t":9.83,"v":2},{"t":9.85,"v":-3},{"t":9.87,"v":1.5},{"t":9.89,"v":-4},{"t":9.91,"v":2.5},{"t":9.93,"v":-2},{"t":9.95,"v":3.5},{"t":9.97,"v":5.1},{"t":10,"v":5.6}],
"by":[{"t":0,"v":-9.3},{"t":0.02,"v":-7},{"t":0.043,"v":-5},{"t":0.08,"v":-3},{"t":0.1,"v":-5},{"t":0.12,"v":-4},{"t":0.145,"v":-6.5},{"t":0.17,"v":-6.1},{"t":0.19,"v":-8},{"t":0.22,"v":-6},{"t":0.24,"v":-7.3},{"t":0.27,"v":-9},{"t":0.29,"v":-7},{"t":0.31,"v":-10},{"t":0.34,"v":-8.5},{"t":0.36,"v":-8},{"t":0.376,"v":-12},{"t":0.39,"v":-10},{"t":0.415,"v":-11.5},{"t":0.44,"v":-9.3},{"t":0.47,"v":-11},{"t":0.5,"v":-10.9},{"t":0.53,"v":-8.5},{"t":0.56,"v":-10},{"t":0.6,"v":-8},{"t":0.64,"v":-7.7},{"t":0.67,"v":-9.5},{"t":0.7,"v":-8.5},{"t":0.73,"v":-11},{"t":0.76,"v":-12},{"t":0.79,"v":-15.1},{"t":0.82,"v":-12},{"t":0.85,"v":-11},{"t":0.88,"v":-9.3},{"t":0.91,"v":-7},{"t":0.945,"v":-4.1},{"t":0.98,"v":-6},{"t":1.01,"v":-5},{"t":1.05,"v":-3.5},{"t":1.07,"v":-5},{"t":1.1,"v":0},{"t":1.13,"v":-3},{"t":1.17,"v":-1.5},{"t":1.2,"v":3},{"t":1.22,"v":-1},{"t":1.25,"v":-2},{"t":1.27,"v":0.5},{"t":1.3,"v":-1},{"t":1.33,"v":-2.5},{"t":1.37,"v":-3.3},{"t":1.41,"v":-4.5},{"t":1.47,"v":-6.3},{"t":1.5,"v":-4},{"t":1.54,"v":-3.5},{"t":1.57,"v":-2.2},{"t":1.61,"v":-1},{"t":1.64,"v":3},{"t":1.66,"v":0},{"t":1.67,"v":7},{"t":1.685,"v":-0.5},{"t":1.7,"v":-1},{"t":1.74,"v":-2.5},{"t":1.8,"v":-3.7},{"t":1.85,"v":-3},{"t":1.9,"v":-4.5},{"t":1.94,"v":-4.3},{"t":2.0,"v":-5},{"t":2.04,"v":-5.3},{"t":2.1,"v":-10.4},{"t":2.14,"v":-12},{"t":2.17,"v":-14.7},{"t":2.22,"v":-12.5},{"t":2.27,"v":-11.5},{"t":2.3,"v":-10},{"t":2.33,"v":-9.3},{"t":2.36,"v":-5},{"t":2.4,"v":2.2},{"t":2.43,"v":0.5},{"t":2.47,"v":4.3},{"t":2.52,"v":6},{"t":2.57,"v":8.5},{"t":2.6,"v":7},{"t":2.64,"v":5.3},{"t":2.7,"v":-1},{"t":2.75,"v":8.9},{"t":2.8,"v":-2.2},{"t":2.85,"v":3},{"t":2.9,"v":7},{"t":2.97,"v":-4.7},{"t":3.03,"v":0},{"t":3.1,"v":-7.3},{"t":3.17,"v":-3.3},{"t":3.24,"v":3.3},{"t":3.28,"v":2.2},{"t":3.33,"v":-9.3},{"t":3.4,"v":-23},{"t":3.45,"v":-15.6},{"t":3.5,"v":-30},{"t":3.53,"v":-25.5},{"t":3.57,"v":-10.4},{"t":3.62,"v":-25.5},{"t":3.66,"v":-30},{"t":3.7,"v":-22},{"t":3.735,"v":13.9},{"t":3.77,"v":12.5},{"t":3.81,"v":18.2},{"t":3.87,"v":21.3},{"t":3.93,"v":13.9},{"t":3.99,"v":12.4},{"t":4.033,"v":16.5},{"t":4.08,"v":13.9},{"t":4.12,"v":-3},{"t":4.17,"v":1.8},{"t":4.23,"v":-1},{"t":4.3,"v":-0.5},{"t":4.37,"v":3},{"t":4.43,"v":1},{"t":4.5,"v":2.5},{"t":4.56,"v":2.7},{"t":4.63,"v":4.2},{"t":4.696,"v":8.5},{"t":4.73,"v":27.6},{"t":4.76,"v":11.7},{"t":4.8,"v":-9.3},{"t":4.83,"v":-8},{"t":4.86,"v":6.3},{"t":4.91,"v":29.7},{"t":4.94,"v":31},{"t":4.96,"v":-17.8},{"t":4.997,"v":-23},{"t":5.04,"v":-29.8},{"t":5.058,"v":31},{"t":5.085,"v":22},{"t":5.13,"v":8.5},{"t":5.18,"v":16.5},{"t":5.22,"v":3},{"t":5.28,"v":-1},{"t":5.32,"v":-8.3},{"t":5.36,"v":-9.3},{"t":5.41,"v":-13.6},{"t":5.46,"v":-10.4},{"t":5.51,"v":-1},{"t":5.54,"v":-9.3},{"t":5.59,"v":-7.3},{"t":5.66,"v":-5.3},{"t":5.72,"v":-6},{"t":5.8,"v":-3.7},{"t":5.86,"v":-4.5},{"t":5.94,"v":-2.6},{"t":6.03,"v":-1},{"t":6.08,"v":-1.5},{"t":6.16,"v":-0.5},{"t":6.23,"v":-1},{"t":6.33,"v":2},{"t":6.36,"v":-0.5},{"t":6.42,"v":-1},{"t":6.47,"v":0},{"t":6.5,"v":-3},{"t":6.53,"v":0.5},{"t":6.56,"v":-2.5},{"t":6.59,"v":1},{"t":6.62,"v":-4},{"t":6.65,"v":0},{"t":6.68,"v":-3},{"t":6.71,"v":1.5},{"t":6.74,"v":-3.5},{"t":6.77,"v":0},{"t":6.8,"v":-4},{"t":6.83,"v":-0.5},{"t":6.86,"v":-3},{"t":6.89,"v":0.5},{"t":6.92,"v":-4.5},{"t":6.95,"v":-1},{"t":6.98,"v":5},{"t":7.0,"v":-3},{"t":7.03,"v":0},{"t":7.06,"v":-4},{"t":7.09,"v":-0.5},{"t":7.12,"v":-3.5},{"t":7.15,"v":1},{"t":7.18,"v":-4},{"t":7.21,"v":0},{"t":7.24,"v":-3},{"t":7.27,"v":-0.5},{"t":7.3,"v":-4.5},{"t":7.33,"v":0.5},{"t":7.36,"v":-3},{"t":7.39,"v":-1},{"t":7.42,"v":-4},{"t":7.45,"v":0},{"t":7.48,"v":-3.5},{"t":7.51,"v":1},{"t":7.54,"v":-4},{"t":7.57,"v":-0.5},{"t":7.6,"v":-3},{"t":7.63,"v":0.5},{"t":7.66,"v":-4},{"t":7.69,"v":4},{"t":7.72,"v":-3},{"t":7.75,"v":0},{"t":7.78,"v":-4.5},{"t":7.81,"v":-0.5},{"t":7.84,"v":-3},{"t":7.87,"v":1},{"t":7.9,"v":-3.5},{"t":7.93,"v":-0.5},{"t":7.96,"v":-4},{"t":7.99,"v":0},{"t":8.02,"v":-3},{"t":8.05,"v":4.5},{"t":8.08,"v":-3.5},{"t":8.11,"v":-0.5},{"t":8.14,"v":-3},{"t":8.18,"v":0.5},{"t":8.22,"v":4},{"t":8.26,"v":-1},{"t":8.3,"v":2.5},{"t":8.34,"v":-4},{"t":8.38,"v":0},{"t":8.42,"v":-2},{"t":8.46,"v":3},{"t":8.49,"v":-4},{"t":8.52,"v":-1},{"t":8.56,"v":4},{"t":8.6,"v":-4.5},{"t":8.64,"v":1.5},{"t":8.68,"v":-2},{"t":8.72,"v":4},{"t":8.76,"v":0},{"t":8.8,"v":-3.5},{"t":8.84,"v":-1},{"t":8.87,"v":1},{"t":8.89,"v":-3},{"t":8.91,"v":0},{"t":8.93,"v":-4},{"t":8.95,"v":1},{"t":8.97,"v":-3.5},{"t":8.99,"v":-0.5},{"t":9.01,"v":-4},{"t":9.03,"v":0.5},{"t":9.05,"v":-3},{"t":9.07,"v":-1},{"t":9.09,"v":-5},{"t":9.11,"v":0},{"t":9.13,"v":-3},{"t":9.15,"v":-0.5},{"t":9.17,"v":-4.5},{"t":9.19,"v":-1},{"t":9.21,"v":-5},{"t":9.23,"v":-2},{"t":9.245,"v":-27.4},{"t":9.255,"v":8.5},{"t":9.265,"v":-9.3},{"t":9.28,"v":17},{"t":9.29,"v":12},{"t":9.3,"v":15},{"t":9.31,"v":7},{"t":9.325,"v":16},{"t":9.335,"v":-9.3},{"t":9.35,"v":-5},{"t":9.37,"v":-3},{"t":9.39,"v":-6},{"t":9.41,"v":-1},{"t":9.43,"v":-4},{"t":9.45,"v":-2},{"t":9.47,"v":-5},{"t":9.49,"v":0},{"t":9.51,"v":-4},{"t":9.53,"v":-1},{"t":9.55,"v":4.2},{"t":9.57,"v":-2},{"t":9.59,"v":-5},{"t":9.61,"v":-1},{"t":9.63,"v":-4},{"t":9.65,"v":-1},{"t":9.67,"v":-5},{"t":9.69,"v":-2},{"t":9.71,"v":-0.5},{"t":9.73,"v":-4},{"t":9.75,"v":3},{"t":9.77,"v":-1},{"t":9.79,"v":-5},{"t":9.81,"v":-2},{"t":9.83,"v":-3},{"t":9.85,"v":0},{"t":9.87,"v":-4},{"t":9.89,"v":1},{"t":9.91,"v":-3},{"t":9.93,"v":0},{"t":9.95,"v":-2},{"t":9.97,"v":1},{"t":9.99,"v":4.8},{"t":10,"v":1}],
"bz":[{"t":0,"v":-3.7},{"t":0.02,"v":1},{"t":0.04,"v":-2},{"t":0.063,"v":2.5},{"t":0.09,"v":0.5},{"t":0.13,"v":7.4},{"t":0.15,"v":2},{"t":0.175,"v":-0.5},{"t":0.2,"v":1.5},{"t":0.24,"v":2.5},{"t":0.26,"v":-1},{"t":0.29,"v":1},{"t":0.32,"v":-2},{"t":0.34,"v":-4.4},{"t":0.36,"v":2},{"t":0.39,"v":16},{"t":0.41,"v":11},{"t":0.44,"v":12.3},{"t":0.47,"v":9},{"t":0.5,"v":9.8},{"t":0.52,"v":5.5},{"t":0.54,"v":3.7},{"t":0.58,"v":2.5},{"t":0.62,"v":3},{"t":0.67,"v":1.2},{"t":0.7,"v":0},{"t":0.74,"v":-1.2},{"t":0.77,"v":-5},{"t":0.8,"v":-9.2},{"t":0.84,"v":-7.5},{"t":0.88,"v":-8},{"t":0.94,"v":-6.8},{"t":1.0,"v":-7.5},{"t":1.07,"v":-7.4},{"t":1.13,"v":-7},{"t":1.2,"v":-7.4},{"t":1.26,"v":-7.8},{"t":1.31,"v":-8},{"t":1.35,"v":-2},{"t":1.41,"v":3.7},{"t":1.47,"v":7.4},{"t":1.52,"v":8.6},{"t":1.57,"v":-3.7},{"t":1.6,"v":0},{"t":1.63,"v":-1.5},{"t":1.7,"v":-6.1},{"t":1.74,"v":0},{"t":1.77,"v":6.1},{"t":1.8,"v":2},{"t":1.84,"v":0},{"t":1.88,"v":1},{"t":1.93,"v":-0.5},{"t":1.99,"v":0.5},{"t":2.04,"v":0},{"t":2.085,"v":-12.9},{"t":2.12,"v":-3},{"t":2.14,"v":-2.5},{"t":2.2,"v":-4.9},{"t":2.27,"v":-9.2},{"t":2.33,"v":-12.3},{"t":2.38,"v":11},{"t":2.4,"v":6},{"t":2.44,"v":8.6},{"t":2.49,"v":12.3},{"t":2.54,"v":2.5},{"t":2.6,"v":-1.2},{"t":2.67,"v":4.9},{"t":2.77,"v":-1.2},{"t":2.84,"v":3.7},{"t":2.9,"v":6.8},{"t":2.97,"v":-3.7},{"t":3.03,"v":7.4},{"t":3.1,"v":0},{"t":3.17,"v":-1.2},{"t":3.23,"v":-8.6},{"t":3.27,"v":-16},{"t":3.3,"v":19},{"t":3.336,"v":3.7},{"t":3.38,"v":-13.5},{"t":3.42,"v":8.6},{"t":3.466,"v":11.7},{"t":3.515,"v":1.2},{"t":3.553,"v":11},{"t":3.6,"v":-6.1},{"t":3.647,"v":-1.2},{"t":3.7,"v":-9.8},{"t":3.75,"v":-3.7},{"t":3.8,"v":-25.8},{"t":3.855,"v":-16},{"t":3.935,"v":-14.7},{"t":4.0,"v":-9.8},{"t":4.05,"v":-1.2},{"t":4.1,"v":7.4},{"t":4.167,"v":12.3},{"t":4.23,"v":11},{"t":4.28,"v":7.4},{"t":4.34,"v":11},{"t":4.4,"v":6.1},{"t":4.46,"v":2.5},{"t":4.53,"v":1.2},{"t":4.6,"v":3.7},{"t":4.66,"v":-1.2},{"t":4.72,"v":2.5},{"t":4.765,"v":-17.2},{"t":4.81,"v":-28.7},{"t":4.863,"v":-25.8},{"t":4.913,"v":-4.9},{"t":4.94,"v":-16},{"t":4.985,"v":1.2},{"t":5.018,"v":20.9},{"t":5.05,"v":35.6},{"t":5.085,"v":16},{"t":5.12,"v":24.6},{"t":5.165,"v":22.1},{"t":5.23,"v":17.8},{"t":5.297,"v":15.3},{"t":5.36,"v":14.7},{"t":5.43,"v":12.3},{"t":5.48,"v":8.6},{"t":5.497,"v":-3.7},{"t":5.53,"v":6.1},{"t":5.6,"v":3.7},{"t":5.7,"v":3.1},{"t":5.8,"v":1.2},{"t":5.9,"v":-1.2},{"t":5.94,"v":-4.3},{"t":6.03,"v":-1.8},{"t":6.16,"v":-1.2},{"t":6.29,"v":-0.6},{"t":6.42,"v":0},{"t":6.46,"v":-1},{"t":6.49,"v":1.5},{"t":6.52,"v":-2.5},{"t":6.55,"v":2},{"t":6.58,"v":-3},{"t":6.61,"v":0.5},{"t":6.64,"v":-4},{"t":6.67,"v":1},{"t":6.7,"v":-2},{"t":6.73,"v":3.5},{"t":6.76,"v":-3},{"t":6.79,"v":0},{"t":6.82,"v":-4.5},{"t":6.85,"v":2},{"t":6.88,"v":-2},{"t":6.91,"v":5.5},{"t":6.94,"v":-3.5},{"t":6.97,"v":1},{"t":7.0,"v":-4},{"t":7.03,"v":2.5},{"t":7.06,"v":-2},{"t":7.09,"v":0.5},{"t":7.12,"v":-5},{"t":7.15,"v":1.5},{"t":7.18,"v":-3},{"t":7.21,"v":3},{"t":7.24,"v":-4},{"t":7.27,"v":0},{"t":7.3,"v":-5.5},{"t":7.33,"v":1},{"t":7.36,"v":-3},{"t":7.39,"v":2},{"t":7.42,"v":-4.5},{"t":7.45,"v":0.5},{"t":7.48,"v":-3},{"t":7.51,"v":3.5},{"t":7.54,"v":-4},{"t":7.57,"v":0},{"t":7.6,"v":-5},{"t":7.63,"v":1.5},{"t":7.66,"v":-3.5},{"t":7.69,"v":2.5},{"t":7.72,"v":-4.5},{"t":7.75,"v":0},{"t":7.78,"v":-3},{"t":7.81,"v":4.5},{"t":7.84,"v":-4},{"t":7.87,"v":0.5},{"t":7.9,"v":-5},{"t":7.93,"v":1.5},{"t":7.96,"v":-3},{"t":7.99,"v":2},{"t":8.02,"v":-4.5},{"t":8.05,"v":0},{"t":8.08,"v":-3},{"t":8.11,"v":3},{"t":8.14,"v":-4},{"t":8.17,"v":0},{"t":8.21,"v":2},{"t":8.25,"v":-1},{"t":8.29,"v":3.5},{"t":8.33,"v":0},{"t":8.37,"v":5},{"t":8.41,"v":1},{"t":8.45,"v":4},{"t":8.49,"v":-0.5},{"t":8.53,"v":3},{"t":8.57,"v":6.5},{"t":8.61,"v":2},{"t":8.65,"v":5},{"t":8.69,"v":0.5},{"t":8.73,"v":6},{"t":8.77,"v":2},{"t":8.81,"v":4},{"t":8.84,"v":0},{"t":8.86,"v":5},{"t":8.88,"v":-2},{"t":8.9,"v":4},{"t":8.92,"v":-3},{"t":8.94,"v":6},{"t":8.96,"v":-1},{"t":8.98,"v":3},{"t":9.0,"v":-4},{"t":9.02,"v":5},{"t":9.04,"v":-2},{"t":9.06,"v":4},{"t":9.08,"v":-3},{"t":9.1,"v":7},{"t":9.12,"v":-1},{"t":9.14,"v":5},{"t":9.16,"v":-2},{"t":9.18,"v":6},{"t":9.2,"v":-1},{"t":9.22,"v":8},{"t":9.24,"v":-18.4},{"t":9.255,"v":12},{"t":9.27,"v":20.9},{"t":9.28,"v":5},{"t":9.29,"v":-8},{"t":9.3,"v":15},{"t":9.312,"v":-14},{"t":9.325,"v":18},{"t":9.34,"v":11},{"t":9.36,"v":8},{"t":9.38,"v":12},{"t":9.4,"v":4.9},{"t":9.43,"v":9},{"t":9.46,"v":6},{"t":9.47,"v":-6.1},{"t":9.49,"v":5},{"t":9.52,"v":2},{"t":9.55,"v":6},{"t":9.58,"v":0},{"t":9.61,"v":4},{"t":9.64,"v":-1},{"t":9.67,"v":3},{"t":9.7,"v":0.6},{"t":9.73,"v":4},{"t":9.76,"v":-1},{"t":9.79,"v":3},{"t":9.82,"v":0},{"t":9.85,"v":2.5},{"t":9.88,"v":-0.5},{"t":9.91,"v":3},{"t":9.94,"v":0},{"t":9.97,"v":2.5},{"t":10,"v":1.8}],
"bt":[{"t":0,"v":11},{"t":0.05,"v":10.5},{"t":0.1,"v":10.2},{"t":0.15,"v":10},{"t":0.2,"v":9.8},{"t":0.25,"v":9.5},{"t":0.3,"v":9.5},{"t":0.34,"v":9.8},{"t":0.36,"v":12},{"t":0.39,"v":16},{"t":0.42,"v":15.5},{"t":0.45,"v":14.7},{"t":0.5,"v":13.5},{"t":0.56,"v":12.3},{"t":0.62,"v":11},{"t":0.66,"v":10.5},{"t":0.7,"v":10},{"t":0.75,"v":10.5},{"t":0.79,"v":17.8},{"t":0.82,"v":15.8},{"t":0.84,"v":15.3},{"t":0.9,"v":14},{"t":0.94,"v":12.9},{"t":1.0,"v":12},{"t":1.07,"v":11.3},{"t":1.2,"v":11},{"t":1.35,"v":10.5},{"t":1.4,"v":10},{"t":1.49,"v":8.9},{"t":1.6,"v":9.2},{"t":1.74,"v":9.8},{"t":1.94,"v":10.5},{"t":2.05,"v":11},{"t":2.07,"v":16},{"t":2.085,"v":19.6},{"t":2.14,"v":20.9},{"t":2.2,"v":20.5},{"t":2.24,"v":19.6},{"t":2.3,"v":18},{"t":2.335,"v":16.6},{"t":2.4,"v":14.5},{"t":2.44,"v":12.9},{"t":2.5,"v":11},{"t":2.6,"v":9.6},{"t":2.74,"v":10.5},{"t":2.94,"v":10.5},{"t":3.1,"v":10.8},{"t":3.23,"v":11},{"t":3.27,"v":23.3},{"t":3.32,"v":21},{"t":3.37,"v":29.5},{"t":3.42,"v":23},{"t":3.466,"v":35.6},{"t":3.57,"v":43},{"t":3.63,"v":45.4},{"t":3.7,"v":45.4},{"t":3.77,"v":43},{"t":3.835,"v":38},{"t":3.9,"v":32},{"t":3.965,"v":25.8},{"t":4.03,"v":19.6},{"t":4.1,"v":14},{"t":4.2,"v":11},{"t":4.3,"v":8},{"t":4.43,"v":5.5},{"t":4.56,"v":8.6},{"t":4.63,"v":13.5},{"t":4.696,"v":25.8},{"t":4.765,"v":36.8},{"t":4.834,"v":35.6},{"t":4.899,"v":33},{"t":4.964,"v":28.2},{"t":5.01,"v":33},{"t":5.05,"v":41.7},{"t":5.085,"v":25.8},{"t":5.13,"v":27},{"t":5.195,"v":22},{"t":5.297,"v":19.6},{"t":5.4,"v":16},{"t":5.48,"v":14},{"t":5.53,"v":12.3},{"t":5.66,"v":11},{"t":5.8,"v":9.8},{"t":5.93,"v":8},{"t":6.03,"v":5.5},{"t":6.2,"v":5.2},{"t":6.4,"v":5},{"t":6.5,"v":4.9},{"t":6.7,"v":5.8},{"t":6.86,"v":6.1},{"t":7.0,"v":6.5},{"t":7.19,"v":6.8},{"t":7.4,"v":6.5},{"t":7.6,"v":6.3},{"t":7.86,"v":6.1},{"t":8.0,"v":5.5},{"t":8.09,"v":4.9},{"t":8.19,"v":7.4},{"t":8.4,"v":6.5},{"t":8.52,"v":6.1},{"t":8.7,"v":6.5},{"t":8.82,"v":6.8},{"t":9.0,"v":7.5},{"t":9.12,"v":8.6},{"t":9.19,"v":9.2},{"t":9.225,"v":9.5},{"t":9.24,"v":20.9},{"t":9.26,"v":28.2},{"t":9.275,"v":22},{"t":9.29,"v":27},{"t":9.305,"v":21},{"t":9.32,"v":26},{"t":9.335,"v":20},{"t":9.35,"v":22},{"t":9.37,"v":19.6},{"t":9.4,"v":17},{"t":9.44,"v":16},{"t":9.5,"v":13.5},{"t":9.54,"v":12.3},{"t":9.6,"v":10.5},{"t":9.64,"v":8.6},{"t":9.7,"v":6.5},{"t":9.73,"v":5.5},{"t":9.77,"v":6.5},{"t":9.83,"v":7.4},{"t":9.9,"v":6.5},{"t":9.95,"v":7.0},{"t":10,"v":6.8}]
},
"spacing":10,
"bounds":"flush",
"vconcat":[
{"width":1382,"height":203,
"title":{"text":"WIND Data for October 26-November 4, 2003","fontSize":28,"font":"Liberation Sans","fontWeight":"normal","anchor":"middle","frame":"group","baseline":"alphabetic","offset":-21,"color":"#000"},
"layer":[
{"data":{"name":"frame"},"mark":{"type":"line","opacity":0},
"encoding":{"x":{"field":"t","type":"quantitative","scale":{"domain":[0,10],"nice":false,"zero":false},"axis":{"orient":"top","tickCount":100,"labels":false,"title":null,"tickSize":{"condition":{"test":"abs(datum.value-round(datum.value))<0.001","value":-10},"value":-5}}},
"y":{"datum":1000,"type":"quantitative","scale":{"domain":[370,2120],"nice":false,"zero":false},"axis":{"orient":"right","values":[400,500,600,700,800,900,1000,1100,1200,1300,1400,1500,1600,1700,1800,1900,2000,2100],"labels":false,"title":null,"tickSize":{"condition":{"test":"datum.value % 500 == 0","value":-25},"value":-12}}}}},
{"data":{"name":"spd"},"mark":{"type":"line","color":"#000","strokeWidth":1.8,"clip":true},
"encoding":{"x":{"field":"t","type":"quantitative","scale":{"domain":[0,10],"nice":false,"zero":false},"axis":{"orient":"bottom","tickCount":100,"labels":false,"title":null,"tickSize":{"condition":{"test":"abs(datum.value-round(datum.value))<0.001","value":-10},"value":-5}}},
"y":{"field":"v","type":"quantitative","scale":{"domain":[370,2120],"nice":false,"zero":false},"axis":{"orient":"left","title":"Speed (km/s)","values":[400,500,600,700,800,900,1000,1100,1200,1300,1400,1500,1600,1700,1800,1900,2000,2100],"labelExpr":"datum.value % 500 == 0 ? '' + datum.value : ''","labelPadding":34,"tickSize":{"condition":{"test":"datum.value % 500 == 0","value":-25},"value":-12},"labelFontSize":{"condition":{"test":"datum.value % 500 != 0","value":0},"value":23}}}}}
],
"resolve":{"axis":{"x":"independent","y":"independent"}}},
{"width":1382,"height":204,
"layer":[
{"data":{"name":"dn"},"mark":{"type":"line","color":"#ff2a1a","strokeWidth":1.8,"strokeDash":[1.5,2.5],"clip":true},
"encoding":{"x":{"field":"t","type":"quantitative","scale":{"domain":[0,10],"nice":false,"zero":false},"axis":{"orient":"top","tickCount":100,"labels":false,"title":null,"tickSize":{"condition":{"test":"abs(datum.value-round(datum.value))<0.001","value":-10},"value":-5}}},
"y":{"field":"v","type":"quantitative","scale":{"domain":[0,30.25],"nice":false,"zero":false},"axis":{"orient":"right","title":"Density (cm⁻³)","titleColor":"#ff2a1a","titleAngle":270,"titleX":-50,"titleY":100,"titleAlign":"center","titleBaseline":"middle","labelColor":"#ff2a1a","labelPadding":27,"labelFlushOffset":2,"tickColor":"#e07060","values":[0,1,2,3,4,5,6,7,8,9,10,11,12,13,14,15,16,17,18,19,20,21,22,23,24,25,26,27,28,29,30],"labelExpr":"datum.value % 10 == 0 ? '' + datum.value : ''","tickSize":{"condition":{"test":"datum.value % 5 == 0","value":-16},"value":-8},"labelFontSize":{"condition":{"test":"datum.value % 10 != 0","value":0},"value":23}}}}},
{"data":{"name":"pd"},"mark":{"type":"line","color":"#000","strokeWidth":1.7,"clip":true},
"encoding":{"x":{"field":"t","type":"quantitative","scale":{"domain":[0,10],"nice":false,"zero":false},"axis":{"orient":"bottom","tickCount":100,"labels":false,"title":null,"tickSize":{"condition":{"test":"abs(datum.value-round(datum.value))<0.001","value":-10},"value":-5}}},
"y":{"field":"v","type":"quantitative","scale":{"domain":[0,60.5],"nice":false,"zero":false},"axis":{"orient":"left","title":"P_dyn (nPa)","values":[0,2,4,6,8,10,12,14,16,18,20,22,24,26,28,30,32,34,36,38,40,42,44,46,48,50,52,54,56,58,60],"labelExpr":"datum.value % 10 == 0 ? '' + datum.value : ''","labelPadding":34,"labelFlushOffset":2,"tickSize":{"condition":{"test":"datum.value % 10 == 0","value":-25},"value":-12},"labelFontSize":{"condition":{"test":"datum.value % 10 != 0","value":0},"value":23}}}}}
],
"resolve":{"scale":{"y":"independent"},"axis":{"x":"independent","y":"independent"}}},
{"width":1382,"height":204,
"layer":[
{"data":{"name":"frame"},"mark":{"type":"line","color":"#aaaaaa","strokeWidth":1.5,"strokeDash":[8,6]},
"encoding":{"x":{"field":"t","type":"quantitative","scale":{"domain":[0,10],"nice":false,"zero":false},"axis":{"orient":"top","tickCount":100,"labels":false,"title":null,"tickSize":{"condition":{"test":"abs(datum.value-round(datum.value))<0.001","value":-10},"value":-5}}},
"y":{"datum":0,"type":"quantitative","scale":{"domain":[-41,24.8],"nice":false,"zero":false},"axis":{"orient":"right","values":[-41,-40,-39,-38,-37,-36,-35,-34,-33,-32,-31,-30,-29,-28,-27,-26,-25,-24,-23,-22,-21,-20,-19,-18,-17,-16,-15,-14,-13,-12,-11,-10,-9,-8,-7,-6,-5,-4,-3,-2,-1,0,1,2,3,4,5,6,7,8,9,10,11,12,13,14,15,16,17,18,19,20,21,22,23,24],"labels":false,"title":null,"tickSize":{"condition":{"test":"datum.value % 10 == 0","value":-18},"value":-9}}}}},
{"data":{"name":"bx"},"mark":{"type":"line","color":"#000","strokeWidth":1.7,"clip":true},
"encoding":{"x":{"field":"t","type":"quantitative","scale":{"domain":[0,10],"nice":false,"zero":false},"axis":{"orient":"bottom","tickCount":100,"labels":false,"title":null,"tickSize":{"condition":{"test":"abs(datum.value-round(datum.value))<0.001","value":-10},"value":-5}}},
"y":{"field":"v","type":"quantitative","scale":{"domain":[-41,24.8],"nice":false,"zero":false},"axis":{"orient":"left","title":"Bx_GSE (nT)","values":[-41,-40,-39,-38,-37,-36,-35,-34,-33,-32,-31,-30,-29,-28,-27,-26,-25,-24,-23,-22,-21,-20,-19,-18,-17,-16,-15,-14,-13,-12,-11,-10,-9,-8,-7,-6,-5,-4,-3,-2,-1,0,1,2,3,4,5,6,7,8,9,10,11,12,13,14,15,16,17,18,19,20,21,22,23,24],"labelExpr":"datum.value % 10 == 0 ? '' + datum.value : ''","labelPadding":34,"labelFlushOffset":7,"tickSize":{"condition":{"test":"datum.value % 10 == 0","value":-25},"value":-12},"labelFontSize":{"condition":{"test":"datum.value % 10 != 0","value":0},"value":23}}}}}
],
"resolve":{"axis":{"x":"independent","y":"independent"}}},
{"width":1382,"height":193,
"layer":[
{"data":{"name":"frame"},"mark":{"type":"line","color":"#aaaaaa","strokeWidth":1.5,"strokeDash":[8,6]},
"encoding":{"x":{"field":"t","type":"quantitative","scale":{"domain":[0,10],"nice":false,"zero":false},"axis":{"orient":"top","tickCount":100,"labels":false,"title":null,"tickSize":{"condition":{"test":"abs(datum.value-round(datum.value))<0.001","value":-10},"value":-5}}},
"y":{"datum":0,"type":"quantitative","scale":{"domain":[-30,31],"nice":false,"zero":false},"axis":{"orient":"right","values":[-30,-28,-26,-24,-22,-20,-18,-16,-14,-12,-10,-8,-6,-4,-2,0,2,4,6,8,10,12,14,16,18,20,22,24,26,28,30],"labels":false,"title":null,"tickSize":{"condition":{"test":"datum.value % 10 == 0","value":-18},"value":-9}}}}},
{"data":{"name":"by"},"mark":{"type":"line","color":"#000","strokeWidth":1.1,"clip":true},
"encoding":{"x":{"field":"t","type":"quantitative","scale":{"domain":[0,10],"nice":false,"zero":false},"axis":{"orient":"bottom","tickCount":100,"labels":false,"title":null,"tickSize":{"condition":{"test":"abs(datum.value-round(datum.value))<0.001","value":-10},"value":-5}}},
"y":{"field":"v","type":"quantitative","scale":{"domain":[-30,31],"nice":false,"zero":false},"axis":{"orient":"left","title":"By_GSE (nT)","values":[-30,-28,-26,-24,-22,-20,-18,-16,-14,-12,-10,-8,-6,-4,-2,0,2,4,6,8,10,12,14,16,18,20,22,24,26,28,30],"labelExpr":"datum.value % 10 == 0 ? '' + datum.value : ''","labelPadding":34,"labelFlushOffset":4,"tickSize":{"condition":{"test":"datum.value % 10 == 0","value":-25},"value":-12},"labelFontSize":{"condition":{"test":"datum.value % 10 != 0","value":0},"value":23}}}}}
],
"resolve":{"axis":{"x":"independent","y":"independent"}}},
{"width":1382,"height":205,
"layer":[
{"data":{"name":"frame"},"mark":{"type":"line","color":"#aaaaaa","strokeWidth":1.5,"strokeDash":[8,6]},
"encoding":{"x":{"field":"t","type":"quantitative","scale":{"domain":[0,10],"nice":false,"zero":false},"axis":{"orient":"top","tickCount":100,"labels":false,"title":null,"tickSize":{"condition":{"test":"abs(datum.value-round(datum.value))<0.001","value":-10},"value":-5}}},
"y":{"datum":0,"type":"quantitative","scale":{"domain":[-29.5,46],"nice":false,"zero":false},"axis":{"orient":"right","values":[-25,-20,-15,-10,-5,0,5,10,15,20,25,30,35,40,45],"labels":false,"title":null,"tickSize":{"condition":{"test":"datum.value % 20 == 0","value":-18},"value":-9}}}}},
{"data":{"name":"bt"},"mark":{"type":"line","color":"#ff2a1a","strokeWidth":1.8,"strokeDash":[1.5,2.5],"clip":true},
"encoding":{"x":{"field":"t","type":"quantitative","scale":{"domain":[0,10],"nice":false,"zero":false},"axis":null},
"y":{"field":"v","type":"quantitative","scale":{"domain":[-29.5,46],"nice":false,"zero":false},"axis":null}}},
{"data":{"name":"bz"},"mark":{"type":"line","color":"#000","strokeWidth":1.1,"clip":true},
"encoding":{"x":{"field":"t","type":"quantitative","scale":{"domain":[0,10],"nice":false,"zero":false},"axis":{"orient":"bottom","tickCount":100,"title":"DAY","labelPadding":32,"titlePadding":8,"labelFlush":false,"labelExpr":"abs(datum.value-round(datum.value))<0.001 ? (datum.value < 5.5 ? '' + (26 + round(datum.value)) : '' + (round(datum.value) - 5)) : ''","tickSize":{"condition":{"test":"abs(datum.value-round(datum.value))<0.001","value":-10},"value":-5},"labelFontSize":{"condition":{"test":"abs(datum.value-round(datum.value))>=0.001","value":0},"value":23}}},
"y":{"field":"v","type":"quantitative","scale":{"domain":[-29.5,46],"nice":false,"zero":false},"axis":{"orient":"left","title":"Bz_GSE (nT)","values":[-25,-20,-15,-10,-5,0,5,10,15,20,25,30,35,40,45],"labelExpr":"datum.value % 20 == 0 ? '' + datum.value : ''","labelPadding":34,"tickSize":{"condition":{"test":"datum.value % 20 == 0","value":-25},"value":-12},"labelFontSize":{"condition":{"test":"datum.value % 20 != 0","value":0},"value":23}}}}},
{"mark":{"type":"text","color":"#ff2a1a","fontSize":17,"font":"Liberation Sans","align":"center","baseline":"middle"},
"encoding":{"x":{"datum":3.17,"type":"quantitative","scale":{"domain":[0,10],"nice":false,"zero":false},"axis":null},
"y":{"datum":34.5,"type":"quantitative","scale":{"domain":[-29.5,46],"nice":false,"zero":false},"axis":null},
"text":{"value":"B_total"}}}
],
"resolve":{"axis":{"x":"independent","y":"independent"}}}
]
}
